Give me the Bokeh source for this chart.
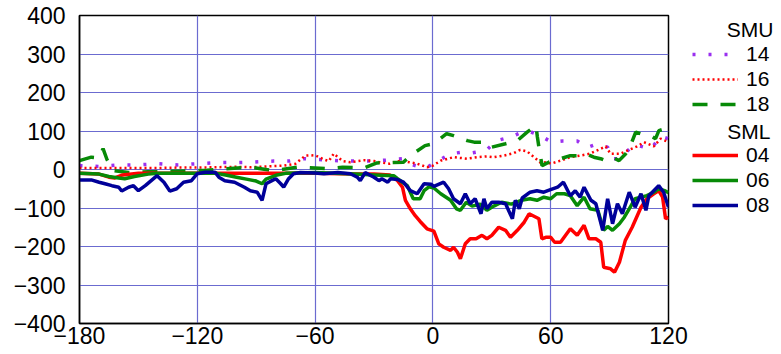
from bokeh.plotting import figure
from bokeh.layouts import row
from bokeh.models import Range1d, Legend, LegendItem, Label, FixedTicker
from bokeh.embed import file_html
from bokeh.resources import INLINE

# ---- data (time in minutes, values) ----
x_ticks = [-180, -120, -60, 0, 60, 120]
y_ticks = [-400, -300, -200, -100, 0, 100, 200, 300, 400]

# SMU 14 (purple, sparse dots)
t14 = [-180, -170, -160, -150, -140, -130, -120, -110, -100, -93,
       -81, -73, -66, -55, -45, -38.5, -30, -22, -15, -12,
       -6.5, -3, 3, 9, 15, 20, 27, 32.5, 39.5, 44,
       48.5, 54, 60.5, 66, 73.5, 78.5, 83, 89, 91.5, 95,
       102.5, 111, 116, 120]
v14 = [10, 8, 12, 12, 15, 12, 15, 18, 18, 19,
       22, 22, 28, 25, 22, 22, 22, 25, 28, 15,
       6, 6, 23, 41, 45, 43, 49, 75, 84, 94,
       100, 90, 71, 74, 74, 57, 65, 58, 28, 28,
       65, 53, 86, 80]

# SMU 16 (red, dotted)
t16 = [-180, -170, -160, -150, -140, -130, -120, -110, -100, -93,
       -85, -76, -70, -65, -60, -55, -53, -50.5, -46, -42,
       -35, -30, -26.5, -22, -17, -12, -8, -3, 0, 4,
       10.5, 17.5, 22.5, 27.5, 31, 36, 41, 44.5, 48, 51.5,
       55, 58, 60, 65, 70, 75, 80, 88, 90.5, 95.5,
       99, 104, 107.5, 112.5, 116, 120]
v16 = [4, 4, 4, 4, 4, 5, 5, 6, 7, 6,
       8, 10, 15, 36, 37, 25, 22, 41, 22, 19,
       24, 22, 18, 15, 22, 19, 15, 6, 10, 23,
       32, 28, 32, 34, 32, 36, 42, 51, 47, 32,
       17, 19, 15, 23, 32, 36, 41, 60, 41, 41,
       49, 60, 71, 60, 80, 71]

# SMU 18 (green, dashed)
t18 = [-180, -174, -170, -168, -166, -163, -155, -145, -135, -125,
       -115, -105, -93, -81, -69, -60, -54, -46, -35, -28.5,
       -25, -15, -11.5, -10, -4, 0.5, 7, 10.5, 17.5, 21,
       27.5, 30, 37, 43, 48, 52.5, 53.2, 54, 55.6, 59,
       61.5, 65, 70, 74, 77.7, 82, 85.4, 88, 91.4, 94.8,
       98.2, 100, 103.3, 105.8, 110.9, 113.4, 115.1, 118.5, 120]
v18 = [23, 32, 30, 54, 26, -3, -8, -6, -5, -4,
       -2, 2, 6, -3, 6, 4, 2, 6, 4, 17,
       18, 19, 36, 41, 62, 67, 93, 88, 75, 71,
       71, 58, 67, 75, 97, 114, 85, 58, 10, 19,
       23, 28, 36, 36, 41, 32, 28, 23, 32, 23,
       41, 54, 97, 93, 88, 80, 101, 106, 97]

# SML 04 (red, solid)
t04 = [-180, -170, -165, -162, -158, -150, -120, -90, -60, -40,
       -30, -22, -18, -15.5, -14, -11.5, -9, -6.5, -3, 0.5,
       3, 5.5, 9, 10.5, 12.5, 14, 16.5, 19, 22, 25,
       27.5, 30, 33.5, 37, 39.5, 43, 46.5, 49, 52.5, 54,
       55.5, 57.5, 60, 62, 65, 70, 73.5, 77, 79.5, 83,
       85.5, 87, 90.5, 92.5, 95, 98, 101.5, 106, 109, 112.5,
       115, 117, 118.5, 120]
v04 = [-10, -12, -20, -22, -14, -10, -10, -10, -10, -12,
       -12, -14, -29, -46, -80, -102, -120, -135, -154, -160,
       -193, -202, -210, -202, -215, -232, -193, -180, -180, -171,
       -180, -171, -150, -158, -176, -158, -137, -115, -124, -128,
       -180, -176, -176, -189, -189, -154, -171, -145, -180, -180,
       -189, -254, -258, -267, -241, -184, -150, -98, -76, -63,
       -55, -72, -128, -124]

# SML 06 (green, solid)
t06 = [-180, -170, -165, -160, -157, -152, -145, -140, -130, -120,
       -110, -105, -100, -95, -90, -87, -85, -80, -75, -60,
       -50, -40, -30, -20, -18, -15, -13, -10, -6.5, -4.5,
       -2, 0.5, 4, 9, 12, 14, 17, 20, 24, 27.5,
       31, 35, 40, 45, 49.5, 53, 56.5, 60, 63, 67,
       70, 73.5, 77, 80, 84, 87, 89, 91.5, 95, 97.5,
       100, 103, 106, 109, 112.5, 115, 118, 120]
v06 = [-10, -12, -18, -22, -24, -18, -12, -10, -10, -10,
       -10, -15, -20, -25, -30, -37, -25, -15, -10, -8,
       -10, -12, -14, -16, -24, -35, -42, -76, -76, -55,
       -45, -48, -63, -80, -102, -106, -85, -95, -90, -106,
       -95, -85, -90, -80, -76, -80, -72, -76, -63, -63,
       -68, -94, -72, -102, -106, -158, -148, -158, -141, -124,
       -102, -76, -72, -68, -59, -50, -55, -60]

# SML 08 (navy, solid)
t08 = [-180, -174, -170, -167, -163.5, -160, -158.5, -155, -152.5, -150,
       -146.5, -140.5, -137, -134, -130.5, -127, -123, -120, -116, -111,
       -109, -106, -101, -96, -93, -89.5, -87, -85, -82, -80,
       -77.5, -76, -73.5, -71, -67.5, -60, -55.5, -48.5, -42, -38.5,
       -37, -34.5, -30, -27.5, -26, -23, -21.5, -18, -15, -11.5,
       -8, -4.5, -1, 0.5, 5.5, 8, 10.5, 14, 16.5, 19,
       21.5, 24.5, 26, 27.5, 30, 33.5, 37, 40.5, 42, 44,
       45.5, 49.5, 53, 56.5, 58.5, 63.5, 66.5, 70, 72.5, 75,
       77, 80.5, 83, 86.5, 89, 91.5, 94, 96.5, 100, 103,
       106, 108.5, 110, 115, 117.5, 120]
v08 = [-27, -27, -33, -37, -42, -46, -56, -46, -42, -55,
       -42, -16, -33, -56, -50, -33, -29, -11, -7, -7,
       -20, -29, -33, -46, -55, -59, -80, -37, -29, -24,
       -37, -46, -24, -11, -8, -9, -11, -8, -11, -20,
       -29, -8, -20, -29, -24, -33, -24, -26, -33, -55,
       -63, -37, -38, -44, -33, -50, -76, -89, -63, -89,
       -76, -115, -76, -102, -85, -85, -89, -128, -80, -102,
       -74, -59, -55, -59, -55, -46, -33, -68, -55, -72,
       -46, -80, -89, -158, -76, -141, -89, -115, -59, -98,
       -63, -106, -68, -42, -59, -98]

legend_groups = ["SMU", "SML"]
labels_smu = ["14", "16", "18"]
labels_sml = ["04", "06", "08"]

FONT = "Liberation Sans"
PURPLE = "#9a2ff0"
RED = "#ff0000"
GREEN = "#078a07"
NAVY = "#000099"
GRID = "#6b6bd0"

styles = {
    "14": dict(line_color=PURPLE, line_width=3.5, line_dash="3 13"),
    "16": dict(line_color=RED, line_width=2.5, line_dash="2 3"),
    "18": dict(line_color=GREEN, line_width=3.5, line_dash="15 13"),
    "04": dict(line_color=RED, line_width=3.5),
    "06": dict(line_color=GREEN, line_width=3.5),
    "08": dict(line_color=NAVY, line_width=3.5),
}
series = {"14": (t14, v14), "16": (t16, v16), "18": (t18, v18),
          "04": (t04, v04), "06": (t06, v06), "08": (t08, v08)}

# ---- main chart ----
p = figure(width=690, height=354, output_backend="svg", toolbar_location=None,
           x_range=Range1d(-180, 120), y_range=Range1d(-400, 400),
           min_border_left=79, min_border_right=22, min_border_top=15,
           min_border_bottom=31)
p.background_fill_color = "white"
p.border_fill_color = "white"
p.outline_line_color = "black"
p.outline_line_width = 1.5

for ax in (p.xaxis, p.yaxis):
    ax.major_tick_line_color = None
    ax.minor_tick_line_color = None
    ax.major_tick_out = 0
    ax.major_tick_in = 0
    ax.axis_line_color = "black"
    ax.axis_line_width = 1.5
    ax.major_label_text_font = FONT
    ax.major_label_text_font_size = "23px"
    ax.major_label_text_color = "black"
p.xaxis.ticker = FixedTicker(ticks=x_ticks)
p.yaxis.ticker = FixedTicker(ticks=y_ticks)
p.xaxis.major_label_standoff = 3
p.yaxis.major_label_standoff = 14

p.xgrid.ticker = FixedTicker(ticks=x_ticks[1:-1])
p.ygrid.ticker = FixedTicker(ticks=y_ticks[1:-1])
for g in (p.xgrid, p.ygrid):
    g.grid_line_color = GRID
    g.grid_line_width = 1.2

for key in ["14", "16", "18", "04", "06", "08"]:
    t, v = series[key]
    p.line(t, v, **styles[key])

# ---- legend panel (its data lies outside its ranges; only the legend shows) ----
q = figure(width=91, height=354, output_backend="svg", toolbar_location=None,
           x_range=Range1d(1000, 1001), y_range=Range1d(1000, 1001),
           x_axis_location=None, y_axis_location=None,
           min_border_left=0, min_border_right=0, min_border_top=15,
           min_border_bottom=31)
q.outline_line_color = None
q.xgrid.visible = False
q.ygrid.visible = False
q.background_fill_color = "white"
q.border_fill_color = "white"

proxy = {}
for key in styles:
    t, v = series[key]
    proxy[key] = q.line(t, v, **styles[key])


def make_legend(keys, loc):
    return Legend(items=[LegendItem(label=k, renderers=[proxy[k]]) for k in keys],
                  location=loc, orientation="vertical",
                  glyph_width=46, glyph_height=20, label_height=20,
                  spacing=1, padding=0, margin=0, label_standoff=8,
                  border_line_color=None, background_fill_alpha=0,
                  label_text_font=FONT, label_text_font_size="21px",
                  label_text_color="black")


q.add_layout(make_legend(labels_smu, (2, 207)))
q.add_layout(make_legend(labels_sml, (2, 106)))

for txt, xx, yy in ((legend_groups[0], 83, 294), (legend_groups[1], 80, 192)):
    q.add_layout(Label(x=xx, y=yy, x_units="screen", y_units="screen",
                       text=txt, text_align="right", text_baseline="middle",
                       text_font=FONT, text_font_size="21px",
                       text_color="black"))

layout = row(p, q, spacing=0)
open("out.html", "w").write(file_html(layout, INLINE))
